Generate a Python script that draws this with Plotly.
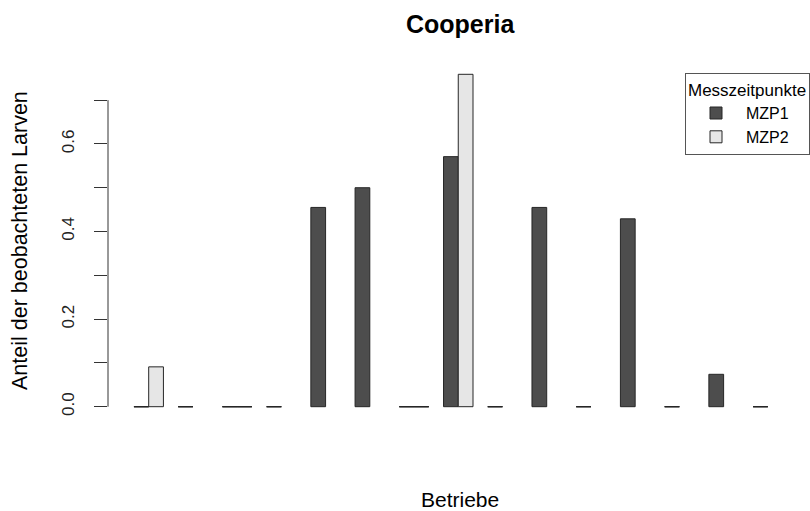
import plotly.graph_objects as go

# Proportion of observed Cooperia larvae per farm, two measurement times
betriebe = list(range(1, 16))
mzp1 = [0.0, 0.0, 0.0, 0.0, 0.455, 0.5, 0.0, 0.571, 0.0, 0.455, 0.0, 0.429, 0.0, 0.074, 0.0]
mzp2 = [0.091, None, 0.0, None, None, None, 0.0, 0.759, None, None, None, None, None, None, None]
series_names = ["MZP1", "MZP2"]
series_colors = ["#4d4d4d", "#e6e6e6"]
y_ticks = [0.0, 0.1, 0.2, 0.3, 0.4, 0.5, 0.6, 0.7]
y_ticktext = ["0.0", "", "0.2", "", "0.4", "", "0.6", ""]

W, H = 810, 511
ML, MR, MT, MB = 108, 0, 61, 91
plot_w = W - ML - MR
plot_h = H - MT - MB

# grouped layout like R barplot(beside=TRUE): one space unit, then the two bars
group_width = 3
def centers(series_idx):
    return [group_width * (b - 1) + 1.5 + series_idx for b in betriebe]

fig = go.Figure()
for i, (name, vals, col) in enumerate(zip(series_names, [mzp1, mzp2], series_colors)):
    xs = centers(i)
    fig.add_trace(go.Bar(
        x=xs, y=vals, width=1, name=name,
        marker=dict(color=col, line=dict(color="#262626", width=1)),
    ))
    # zero-height bars collapse to their border line
    zx, zy = [], []
    for x, v in zip(xs, vals):
        if v is not None and v == 0:
            zx += [x - 0.5, x + 0.5, None]
            zy += [v, v, None]
    fig.add_trace(go.Scatter(
        x=zx, y=zy, mode="lines", line=dict(color="#262626", width=1.4),
        showlegend=False, hoverinfo="skip",
    ))

n_units = group_width * len(betriebe)
x_lo, x_hi = 1, n_units
pad = 0.04 * (x_hi - x_lo)
ymax = max(v for v in mzp1 + mzp2 if v is not None)
ypad = 0.04 * ymax

fig.update_layout(
    width=W, height=H,
    margin=dict(l=ML, r=MR, t=MT, b=MB),
    plot_bgcolor="white", paper_bgcolor="white",
    font=dict(family="Liberation Sans, Arial, sans-serif", color="#000000"),
    barmode="overlay",
    showlegend=True,
    xaxis=dict(range=[x_lo - pad, x_hi + pad + 0.1], visible=False, fixedrange=True),
    yaxis=dict(
        range=[-ypad, ymax + ypad],
        tickvals=y_ticks, ticktext=y_ticktext, tickangle=-90,
        ticks="outside", ticklen=13, tickcolor="#333333", tickwidth=1,
        showgrid=False, zeroline=False, showline=False,
        tickfont=dict(size=17, color="#222222"),
        ticklabelstandoff=13,
    ),
    legend=dict(
        title=dict(text="Messzeitpunkte", font=dict(size=17)),
        x=(685 - ML) / plot_w, y=(H - MB - 73) / plot_h,
        xanchor="left", yanchor="top",
        bgcolor="white", bordercolor="#555555", borderwidth=1,
        font=dict(size=16), itemwidth=50,
    ),
    shapes=[dict(type="line", xref="paper", yref="y", x0=0, x1=0,
                 y0=y_ticks[0], y1=y_ticks[-1], line=dict(color="#333333", width=1))],
    annotations=[
        dict(text="<b>Cooperia</b>", xref="paper", yref="paper",
             x=(460 - ML) / plot_w, y=(H - MB - 24) / plot_h,
             showarrow=False, font=dict(size=25), xanchor="center", yanchor="middle"),
        dict(text="Betriebe", xref="paper", yref="paper",
             x=(460 - ML) / plot_w, y=(H - MB - 499) / plot_h,
             showarrow=False, font=dict(size=21), xanchor="center", yanchor="middle"),
        dict(text="Anteil der beobachteten Larven", xref="paper", yref="paper",
             x=(20 - ML) / plot_w, y=(H - MB - 241) / plot_h, textangle=-90,
             showarrow=False, font=dict(size=21.5), xanchor="center", yanchor="middle"),
    ],
)

fig.write_html("out.html")
